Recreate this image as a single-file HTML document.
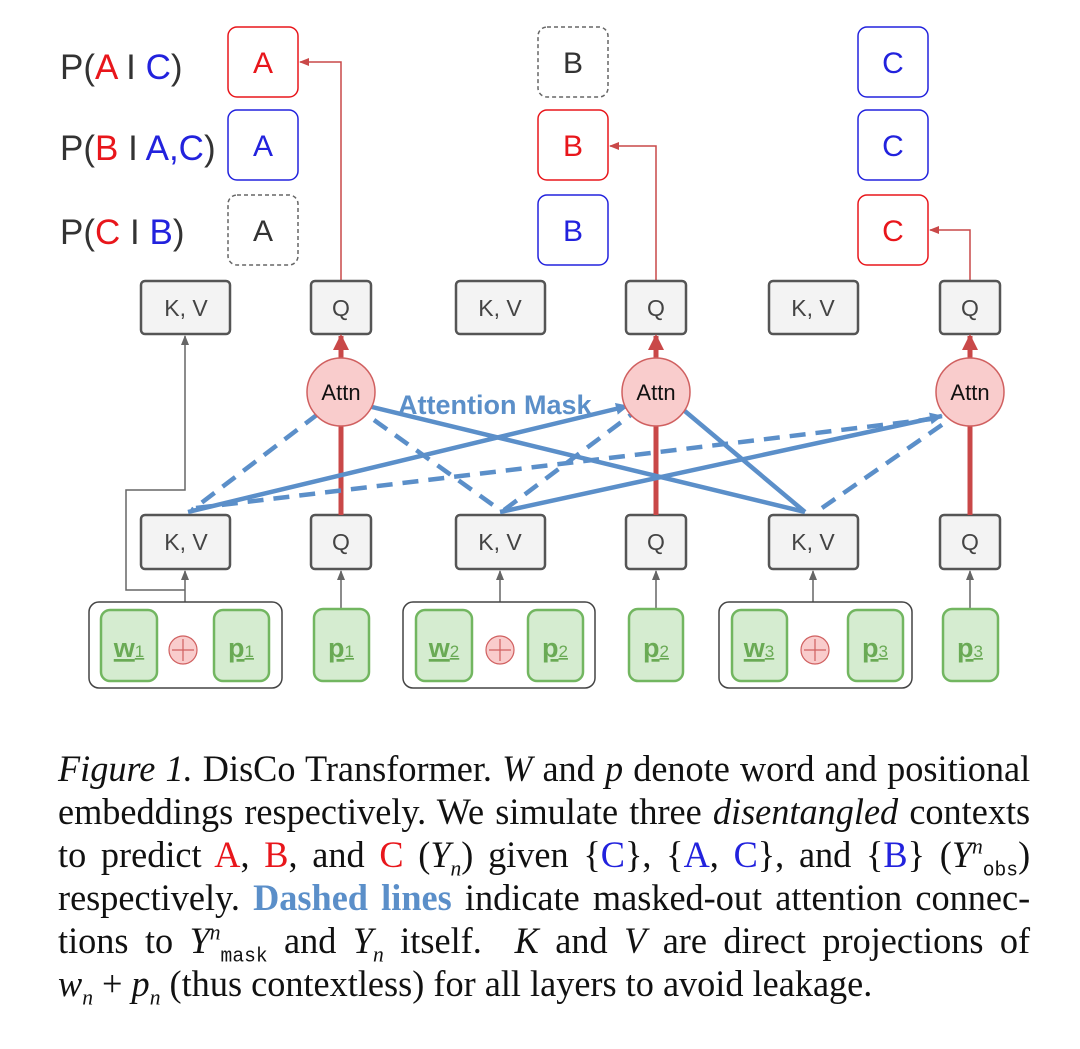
<!DOCTYPE html>
<html><head><meta charset="utf-8"><style>
body{margin:0;width:1080px;height:1049px;background:#fff;position:relative;overflow:hidden}
svg{position:absolute;left:0;top:0}
.cap{position:absolute;left:58px;width:992px;transform:scaleX(0.98);transform-origin:0 0;font-family:"Liberation Serif",serif;font-size:37px;line-height:43px;color:#111;text-align:justify;text-align-last:justify;white-space:nowrap}
.r{color:#e8161b}.b{color:#2222dd}.i{font-style:italic}
.d{color:#5b8fc9;font-weight:bold}
sub,sup{font-size:22px;line-height:0}
.mono{font-family:"Liberation Mono",monospace;font-size:20px}
</style></head><body>
<svg width="1080" height="740" viewBox="0 0 1080 740" font-family="Liberation Sans, sans-serif">
<defs>
<marker id="ra" markerWidth="10" markerHeight="10" refX="9" refY="5" orient="auto" markerUnits="userSpaceOnUse"><path d="M0,1 L10,5 L0,9 z" fill="#c94848"/></marker>
<marker id="ga" markerWidth="10" markerHeight="10" refX="9" refY="5" orient="auto" markerUnits="userSpaceOnUse"><path d="M0,1 L10,5 L0,9 z" fill="#666"/></marker>
<marker id="ba" markerWidth="14" markerHeight="12" refX="12" refY="6" orient="auto" markerUnits="userSpaceOnUse"><path d="M0,0 L13,6 L0,12 z" fill="#5b8fc9"/></marker>
<marker id="rb" markerWidth="16" markerHeight="16" refX="14" refY="8" orient="auto" markerUnits="userSpaceOnUse"><path d="M0,0 L16,8 L0,16 z" fill="#c94848"/></marker>
</defs>
<g font-size="35" fill="#333">
<text x="60" y="79">P(<tspan fill="#e8161b">A</tspan> I <tspan fill="#2222dd">C</tspan>)</text>
<text x="60" y="160">P(<tspan fill="#e8161b">B</tspan> I <tspan fill="#2222dd">A,C</tspan>)</text>
<text x="60" y="244">P(<tspan fill="#e8161b">C</tspan> I <tspan fill="#2222dd">B</tspan>)</text>
</g>
<g stroke-width="1.5" fill="none">
<rect x="228" y="27" width="70" height="70" rx="9" stroke="#e8161b"/>
<rect x="228" y="110" width="70" height="70" rx="9" stroke="#2222dd"/>
<rect x="228" y="195" width="70" height="70" rx="9" stroke="#666" stroke-dasharray="4,3"/>
<rect x="538" y="27" width="70" height="70" rx="9" stroke="#666" stroke-dasharray="4,3"/>
<rect x="538" y="110" width="70" height="70" rx="9" stroke="#e8161b"/>
<rect x="538" y="195" width="70" height="70" rx="9" stroke="#2222dd"/>
<rect x="858" y="27" width="70" height="70" rx="9" stroke="#2222dd"/>
<rect x="858" y="110" width="70" height="70" rx="9" stroke="#2222dd"/>
<rect x="858" y="195" width="70" height="70" rx="9" stroke="#e8161b"/>
</g>
<g font-size="30" text-anchor="middle">
<text x="263" y="73" fill="#e8161b">A</text><text x="263" y="156" fill="#2222dd">A</text><text x="263" y="241" fill="#333">A</text>
<text x="573" y="73" fill="#333">B</text><text x="573" y="156" fill="#e8161b">B</text><text x="573" y="241" fill="#2222dd">B</text>
<text x="893" y="73" fill="#2222dd">C</text><text x="893" y="156" fill="#2222dd">C</text><text x="893" y="241" fill="#e8161b">C</text>
</g>
<g stroke="#c94848" stroke-width="1.5" fill="none">
<path d="M341,283 V62 H300" marker-end="url(#ra)"/>
<path d="M656,283 V146 H610" marker-end="url(#ra)"/>
<path d="M970,283 V230 H930" marker-end="url(#ra)"/>
</g>
<g stroke="#666" stroke-width="1.5" fill="none">
<path d="M185,602 V571" marker-end="url(#ga)"/>
<path d="M185,590 H126 V490 H185 V336" marker-end="url(#ga)"/>
<path d="M341,609 V571" marker-end="url(#ga)"/>
<path d="M500,602 V571" marker-end="url(#ga)"/>
<path d="M656,609 V571" marker-end="url(#ga)"/>
<path d="M813,602 V571" marker-end="url(#ga)"/>
<path d="M970,609 V571" marker-end="url(#ga)"/>
</g>
<g fill="#f3f3f3" stroke="#555" stroke-width="2.5">
<rect x="141" y="281" width="89" height="53" rx="4"/><rect x="311" y="281" width="60" height="53" rx="4"/>
<rect x="456" y="281" width="89" height="53" rx="4"/><rect x="626" y="281" width="60" height="53" rx="4"/>
<rect x="769" y="281" width="89" height="53" rx="4"/><rect x="940" y="281" width="60" height="53" rx="4"/>
<rect x="141" y="515" width="89" height="54" rx="4"/><rect x="311" y="515" width="60" height="54" rx="4"/>
<rect x="456" y="515" width="89" height="54" rx="4"/><rect x="626" y="515" width="60" height="54" rx="4"/>
<rect x="769" y="515" width="89" height="54" rx="4"/><rect x="940" y="515" width="60" height="54" rx="4"/>
</g>
<g font-size="23" fill="#444" text-anchor="middle">
<text x="186" y="316">K, V</text><text x="341" y="316">Q</text><text x="500" y="316">K, V</text><text x="656" y="316">Q</text><text x="813" y="316">K, V</text><text x="970" y="316">Q</text>
<text x="186" y="550">K, V</text><text x="341" y="550">Q</text><text x="500" y="550">K, V</text><text x="656" y="550">Q</text><text x="813" y="550">K, V</text><text x="970" y="550">Q</text>
</g>
<g stroke="#c94848" stroke-width="5" fill="none">
<path d="M341,515 V420"/><path d="M656,515 V420"/><path d="M970,515 V420"/>
<path d="M341,360 V336" marker-end="url(#rb)"/><path d="M656,360 V336" marker-end="url(#rb)"/><path d="M970,360 V336" marker-end="url(#rb)"/>
</g>
<g stroke="#5b8fc9" stroke-width="4.5" fill="none">
<path d="M368,406 L805,512"/>
<path d="M680,407 L805,512"/>
<path d="M188,512 L628,406" marker-end="url(#ba)"/>
<path d="M500,512 L942,416" marker-end="url(#ba)"/>
</g>
<g stroke="#5b8fc9" stroke-width="4.5" fill="none" stroke-dasharray="16,10">
<path d="M318,414 L192,510"/>
<path d="M374,420 L500,510"/>
<path d="M504,510 L632,414"/>
<path d="M196,508 L940,418"/>
<path d="M822,508 L946,422"/>
</g>
<g fill="#f9cccc" stroke="#d06060" stroke-width="1.5">
<circle cx="341" cy="392" r="34"/><circle cx="656" cy="392" r="34"/><circle cx="970" cy="392" r="34"/>
</g>
<g font-size="22" text-anchor="middle" fill="#111">
<text x="341" y="400">Attn</text><text x="656" y="400">Attn</text><text x="970" y="400">Attn</text>
</g>
<text x="398" y="414" font-size="27" font-weight="bold" fill="#5b8fc9">Attention Mask</text>
<g fill="#fff" stroke="#444" stroke-width="1.5">
<rect x="89" y="602" width="193" height="86" rx="10"/><rect x="403" y="602" width="192" height="86" rx="10"/><rect x="719" y="602" width="193" height="86" rx="10"/>
</g>
<g fill="#d5ecd0" stroke="#72b660" stroke-width="2.5">
<rect x="101" y="610" width="56" height="71" rx="9"/><rect x="214" y="610" width="55" height="71" rx="9"/><rect x="314" y="609" width="55" height="72" rx="9"/>
<rect x="416" y="610" width="56" height="71" rx="9"/><rect x="528" y="610" width="55" height="71" rx="9"/><rect x="629" y="609" width="54" height="72" rx="9"/>
<rect x="732" y="610" width="55" height="71" rx="9"/><rect x="848" y="610" width="55" height="71" rx="9"/><rect x="943" y="609" width="55" height="72" rx="9"/>
</g>
<g fill="#f9cccc" stroke="#d06060" stroke-width="1.2">
<circle cx="183" cy="650" r="14"/><circle cx="500" cy="650" r="14"/><circle cx="815" cy="650" r="14"/>
</g>
<g stroke="#d06060" stroke-width="1.2">
<path d="M172,650 H194 M183,639 V661"/><path d="M489,650 H511 M500,639 V661"/><path d="M804,650 H826 M815,639 V661"/>
</g>
<g font-size="27" font-weight="bold" fill="#6aaa55" text-anchor="middle">
<text x="129" y="657" text-decoration="underline">w<tspan font-size="17" font-weight="normal">1</tspan></text>
<text x="241" y="657" text-decoration="underline">p<tspan font-size="17" font-weight="normal">1</tspan></text>
<text x="341" y="657" text-decoration="underline">p<tspan font-size="17" font-weight="normal">1</tspan></text>
<text x="444" y="657" text-decoration="underline">w<tspan font-size="17" font-weight="normal">2</tspan></text>
<text x="555" y="657" text-decoration="underline">p<tspan font-size="17" font-weight="normal">2</tspan></text>
<text x="656" y="657" text-decoration="underline">p<tspan font-size="17" font-weight="normal">2</tspan></text>
<text x="759" y="657" text-decoration="underline">w<tspan font-size="17" font-weight="normal">3</tspan></text>
<text x="875" y="657" text-decoration="underline">p<tspan font-size="17" font-weight="normal">3</tspan></text>
<text x="970" y="657" text-decoration="underline">p<tspan font-size="17" font-weight="normal">3</tspan></text>
</g>
</svg>
<div class="cap" style="top:748px"><span class="i">Figure 1.</span> DisCo Transformer. <span class="i">W</span> and <span class="i">p</span> denote word and positional</div>
<div class="cap" style="top:791px">embeddings respectively. We simulate three <span class="i">disentangled</span> contexts</div>
<div class="cap" style="top:834px">to predict <span class="r">A</span>, <span class="r">B</span>, and <span class="r">C</span> (<span class="i">Y<sub>n</sub></span>) given {<span class="b">C</span>}, {<span class="b">A</span>, <span class="b">C</span>}, and {<span class="b">B</span>} (<span class="i">Y</span><sup class="i">n</sup><sub class="mono">obs</sub>)</div>
<div class="cap" style="top:877px">respectively. <span class="d">Dashed lines</span> indicate masked-out attention connec-</div>
<div class="cap" style="top:920px">tions to <span class="i">Y</span><sup class="i">n</sup><sub class="mono">mask</sub> and <span class="i">Y<sub>n</sub></span> itself. &nbsp;<span class="i">K</span> and <span class="i">V</span> are direct projections of</div>
<div class="cap" style="top:963px;text-align-last:left"><span class="i">w<sub>n</sub></span> + <span class="i">p<sub>n</sub></span> (thus contextless) for all layers to avoid leakage.</div>
</body></html>
